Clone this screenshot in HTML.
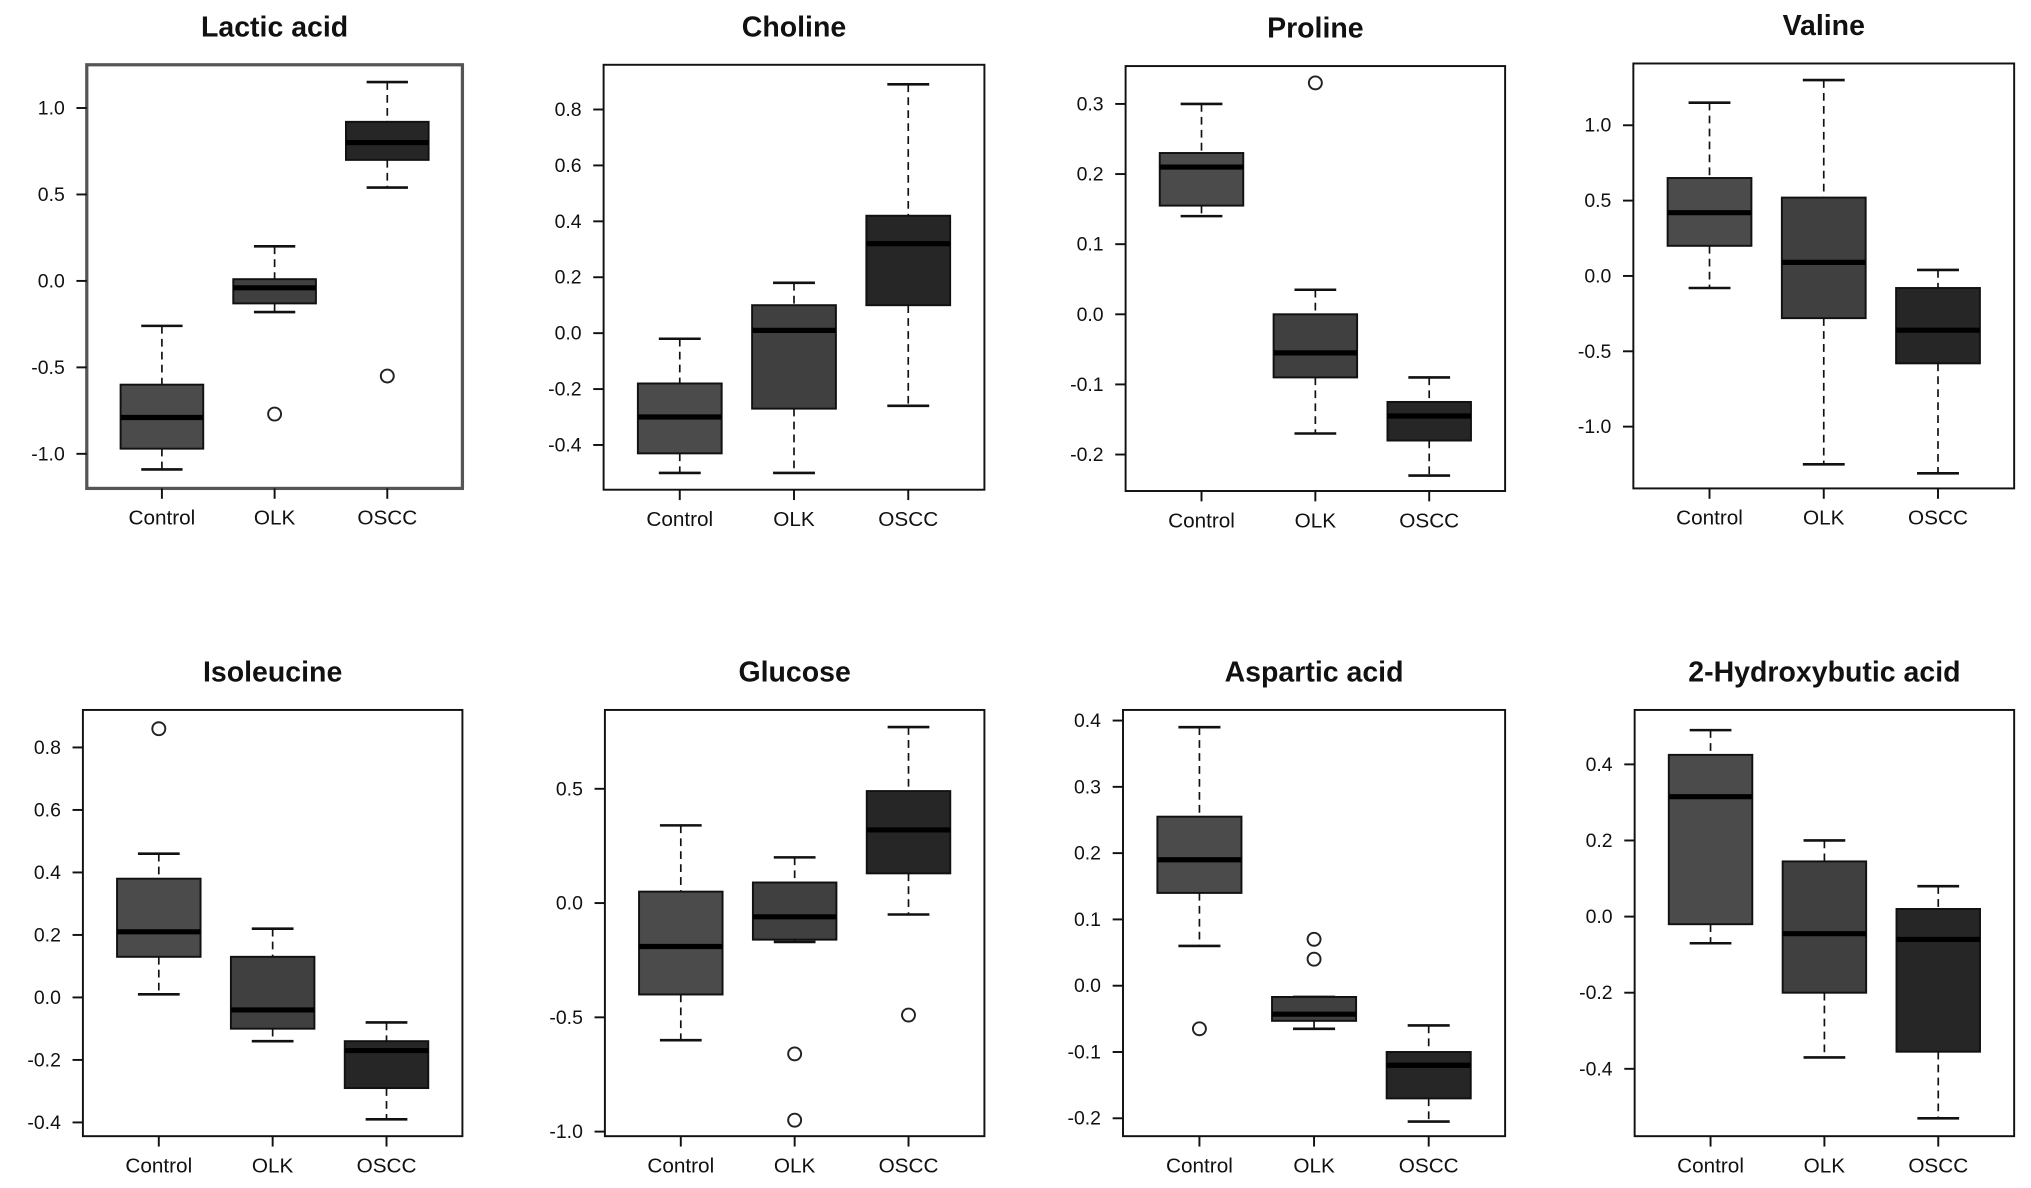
<!DOCTYPE html>
<html><head><meta charset="utf-8"><style>
html,body{margin:0;padding:0;background:#fff;}
svg{display:block;}
text{font-family:"Liberation Sans Narrow","Liberation Sans",sans-serif;fill:#111;}
</style></head><body>
<svg id="fig" width="2031" height="1188" viewBox="0 0 1568 917" preserveAspectRatio="none" xmlns="http://www.w3.org/2000/svg"></svg>
<script>
const groups = ["Control","OLK","OSCC"];
const titles = ["Lactic acid","Choline","Proline","Valine","Isoleucine","Glucose","Aspartic acid","2-Hydroxybutic acid"];
// each: [whiskerHigh, q3, median, q1, whiskerLow]
const lacticStats = [[-0.26,-0.6,-0.79,-0.97,-1.09],[0.2,0.01,-0.04,-0.13,-0.18],[1.15,0.92,0.8,0.7,0.54]];
const cholineStats = [[-0.02,-0.18,-0.3,-0.43,-0.5],[0.18,0.1,0.01,-0.27,-0.5],[0.89,0.42,0.32,0.1,-0.26]];
const prolineStats = [[0.3,0.23,0.21,0.155,0.14],[0.035,0.0,-0.055,-0.09,-0.17],[-0.09,-0.125,-0.145,-0.18,-0.23]];
const valineStats = [[1.15,0.65,0.42,0.2,-0.08],[1.3,0.52,0.09,-0.28,-1.25],[0.04,-0.08,-0.36,-0.58,-1.31]];
const isoleucineStats = [[0.46,0.38,0.21,0.13,0.01],[0.22,0.13,-0.04,-0.1,-0.14],[-0.08,-0.14,-0.17,-0.29,-0.39]];
const glucoseStats = [[0.34,0.05,-0.19,-0.4,-0.6],[0.2,0.09,-0.06,-0.16,-0.17],[0.77,0.49,0.32,0.13,-0.05]];
const asparticStats = [[0.39,0.255,0.19,0.14,0.06],[-0.017,-0.017,-0.043,-0.053,-0.065],[-0.06,-0.1,-0.12,-0.17,-0.205]];
const hydroxyStats = [[0.49,0.425,0.315,-0.02,-0.07],[0.2,0.145,-0.045,-0.2,-0.37],[0.08,0.02,-0.06,-0.355,-0.53]];
const lacticOut = [[],[-0.77],[-0.55]];
const cholineOut = [[],[],[]];
const prolineOut = [[],[0.33],[]];
const valineOut = [[],[],[]];
const isoleucineOut = [[0.86],[],[]];
const glucoseOut = [[],[-0.66,-0.95],[-0.49]];
const asparticOut = [[-0.065],[0.07,0.04],[]];
const hydroxyOut = [[],[],[]];
// y-axis domains [top, bottom] and tick labels
const lacticDomain = [1.25,-1.2], lacticTicks = ["1.0","0.5","0.0","-0.5","-1.0"];
const cholineDomain = [0.96,-0.56], cholineTicks = ["0.8","0.6","0.4","0.2","0.0","-0.2","-0.4"];
const prolineDomain = [0.354,-0.252], prolineTicks = ["0.3","0.2","0.1","0.0","-0.1","-0.2"];
const valineDomain = [1.41,-1.41], valineTicks = ["1.0","0.5","0.0","-0.5","-1.0"];
const isoleucineDomain = [0.92,-0.444], isoleucineTicks = ["0.8","0.6","0.4","0.2","0.0","-0.2","-0.4"];
const glucoseDomain = [0.845,-1.02], glucoseTicks = ["0.5","0.0","-0.5","-1.0"];
const asparticDomain = [0.416,-0.227], asparticTicks = ["0.4","0.3","0.2","0.1","0.0","-0.1","-0.2"];
const hydroxyDomain = [0.543,-0.577], hydroxyTicks = ["0.4","0.2","0.0","-0.2","-0.4"];

const stats = [lacticStats,cholineStats,prolineStats,valineStats,isoleucineStats,glucoseStats,asparticStats,hydroxyStats];
const outs = [lacticOut,cholineOut,prolineOut,valineOut,isoleucineOut,glucoseOut,asparticOut,hydroxyOut];
const domains = [lacticDomain,cholineDomain,prolineDomain,valineDomain,isoleucineDomain,glucoseDomain,asparticDomain,hydroxyDomain];
const ticks = [lacticTicks,cholineTicks,prolineTicks,valineTicks,isoleucineTicks,glucoseTicks,asparticTicks,hydroxyTicks];
const frames = [[67,50,357,377],[466,50,760,378],[869,51,1162,379],[1261,49,1555,377],[64,548,357,877],[467,548,760,877],[867,548,1162,877],[1262,548,1555,877]];
const fills = ["#4b4b4b","#404040","#262626"];
const NS="http://www.w3.org/2000/svg";
const svg=document.getElementById('fig');
function mk(tag,attrs,parent){const e=document.createElementNS(NS,tag);for(const k in attrs)e.setAttribute(k,attrs[k]);(parent||svg).appendChild(e);return e;}
function slug(s){return s.toLowerCase().replace(/[^a-z0-9]+/g,'-').replace(/-$/,'');}
titles.forEach((t,i)=>{
  const [x0,y0,x1,y1]=frames[i];const w=x1-x0;
  const g=mk('g',{});
  
  
  const [d0,d1]=domains[i];
  const Y=v=>y0+(d0-v)/(d0-d1)*(y1-y0);
  const X=k=>x0+w*(0.2+0.3*k);
  const bw=w*0.22;
  const ti=mk('text',{x:(x0+x1)/2,y:y0-22,'text-anchor':'middle','font-size':22,'font-weight':'bold'},g);ti.textContent=t;
  
  
  const fr=mk('rect',{x:x0,y:y0,width:w,height:y1-y0,fill:'none',stroke:i==0?'#555':'#111','stroke-width':i==0?2.5:1.5},g);
  
  
  ticks[i].forEach(s=>{const v=parseFloat(s);const y=Y(v);
    mk('line',{x1:x0-8,x2:x0,y1:y,y2:y,stroke:'#111','stroke-width':1.5},g);
    const tl=mk('text',{x:x0-17,y:y+5,'text-anchor':'end','font-size':15},g);tl.textContent=s;
    
    
  });
  groups.forEach((gn,k)=>{
    const cx=X(k);const s=stats[i][k];
    mk('line',{x1:cx,x2:cx,y1:y1,y2:y1+8,stroke:'#111','stroke-width':1.5},g);
    const xl=mk('text',{x:cx,y:y1+28,'text-anchor':'middle','font-size':16},g);xl.textContent=gn;
    
    
    const bg=mk('g',{},g);
    
    
    mk('line',{x1:cx,x2:cx,y1:Y(s[0]),y2:Y(s[1]),stroke:'#111','stroke-width':1.3,'stroke-dasharray':'6,4'},bg);
    mk('line',{x1:cx,x2:cx,y1:Y(s[3]),y2:Y(s[4]),stroke:'#111','stroke-width':1.3,'stroke-dasharray':'6,4'},bg);
    mk('line',{x1:cx-bw/4,x2:cx+bw/4,y1:Y(s[0]),y2:Y(s[0]),stroke:'#111','stroke-width':2},bg);
    mk('line',{x1:cx-bw/4,x2:cx+bw/4,y1:Y(s[4]),y2:Y(s[4]),stroke:'#111','stroke-width':2},bg);
    mk('rect',{x:cx-bw/2,y:Y(s[1]),width:bw,height:Y(s[3])-Y(s[1]),fill:fills[k],stroke:'#111','stroke-width':1.5},bg);
    mk('line',{x1:cx-bw/2,x2:cx+bw/2,y1:Y(s[2]),y2:Y(s[2]),stroke:'#000','stroke-width':4},bg);
    outs[i][k].forEach(v=>{const c=mk('circle',{cx:cx,cy:Y(v),r:5,fill:'none',stroke:'#222','stroke-width':1.5},bg);
      
      
    });
  });
});
</script>
</body></html>
